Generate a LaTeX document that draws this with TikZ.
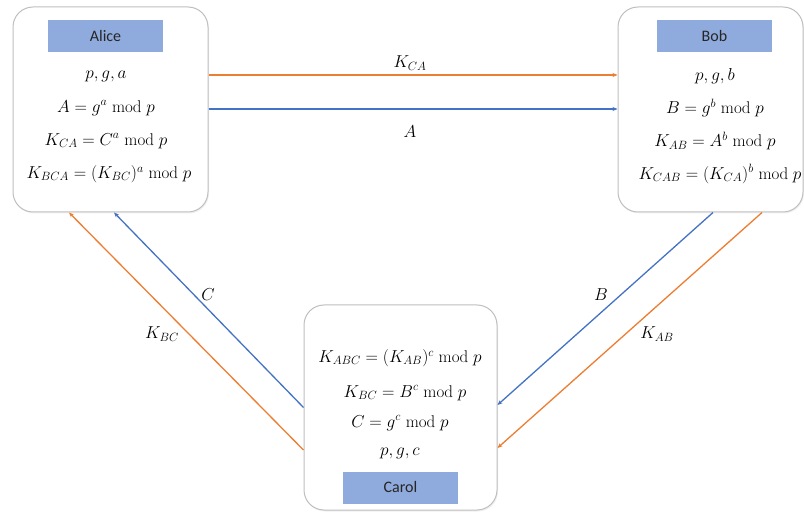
\documentclass[tikz,border=0pt]{standalone}
\usepackage{fontspec}
\newfontfamily\labelfont{Carlito}
\usetikzlibrary{arrows.meta,shadows}
\definecolor{orangeL}{HTML}{ED7D31}
\definecolor{blueL}{HTML}{4472C4}
\definecolor{tagfill}{HTML}{8FAADC}
\definecolor{boxgray}{HTML}{BFBFBF}
\definecolor{tagtext}{HTML}{262626}
\begin{document}
\begin{tikzpicture}[x=1pt,y=-1pt,
  party/.style={draw=boxgray, line width=1pt, rounded corners=20pt, fill=white,
    inner sep=0pt, drop shadow={opacity=0.12, shadow xshift=1pt, shadow yshift=-1.5pt}},
  tag/.style={fill=tagfill, inner sep=0pt, minimum width=115pt, minimum height=32pt,
    font=\labelfont\fontsize{16}{18}\selectfont, text=tagtext},
  eq/.style={font=\fontsize{17}{19}\selectfont, inner sep=0pt},
  lab/.style={font=\fontsize{17}{19}\selectfont, inner sep=1pt},
  msgO/.style={draw=orangeL, line width=1.3pt, -{Stealth[length=5pt,width=4pt]}},
  msgB/.style={draw=blueL, line width=1.3pt, -{Stealth[length=5pt,width=4pt]}}]
\useasboundingbox (0,0) rectangle (804,513);
% boxes
\node[party, minimum width=195pt, minimum height=205pt] (alice) at (110.5,109.5) {};
\node[party, minimum width=185pt, minimum height=205pt] (bob) at (710.5,109.5) {};
\node[party, minimum width=193pt, minimum height=205pt] (carol) at (400.5,407.5) {};
% tags
\node[tag] (alicetag) at (105.5,36) {Alice};
\node[tag] (bobtag) at (714.5,36) {Bob};
\node[tag] (caroltag) at (400.5,487.5) {Carol};
% Alice equations
\node[eq] (a1) at (106,76) {$p,g,a$};
\node[eq] (a2) at (106,108) {$A=g^{a}\bmod p$};
\node[eq] (a3) at (106,141) {$K_{CA}=C^{a}\bmod p$};
\node[eq] (a4) at (109,174) {$K_{BCA}=(K_{BC})^{a}\bmod p$};
% Bob equations
\node[eq] (b1) at (715,76) {$p,g,b$};
\node[eq] (b2) at (715,108) {$B=g^{b}\bmod p$};
\node[eq] (b3) at (715,141) {$K_{AB}=A^{b}\bmod p$};
\node[eq] (b4) at (720,174) {$K_{CAB}=(K_{CA})^{b}\bmod p$};
% Carol equations
\node[eq] (c1) at (400,358) {$K_{ABC}=(K_{AB})^{c}\bmod p$};
\node[eq] (c2) at (405,393) {$K_{BC}=B^{c}\bmod p$};
\node[eq] (c3) at (400,423) {$C=g^{c}\bmod p$};
\node[eq] (c4) at (400,453) {$p,g,c$};
% connectors
\draw[msgO] ([yshift=34.5pt]alice.east) -- ([yshift=34.5pt]bob.west);
\draw[msgB] ([yshift=0.5pt]alice.east) -- ([yshift=0.5pt]bob.west);
\draw[msgB] (carol.west) -- ([xshift=3.5pt]alice.south);
\draw[msgO] ([yshift=-42.5pt]carol.west) -- ([xshift=-41.5pt]alice.south);
\draw[msgB] ([xshift=2.5pt]bob.south) -- ([yshift=2.5pt]carol.east);
\draw[msgO] ([xshift=51.5pt]bob.south) -- ([yshift=-40.5pt]carol.east);
% connector labels
\node[lab] (lKCA) at (410,63) {$K_{CA}$};
\node[lab] (lA) at (410,132) {$A$};
\node[lab] (lC) at (208,295) {$C$};
\node[lab] (lKBC) at (162,334) {$K_{BC}$};
\node[lab] (lB) at (601,295) {$B$};
\node[lab] (lKAB) at (657,334) {$K_{AB}$};
\end{tikzpicture}
\end{document}
